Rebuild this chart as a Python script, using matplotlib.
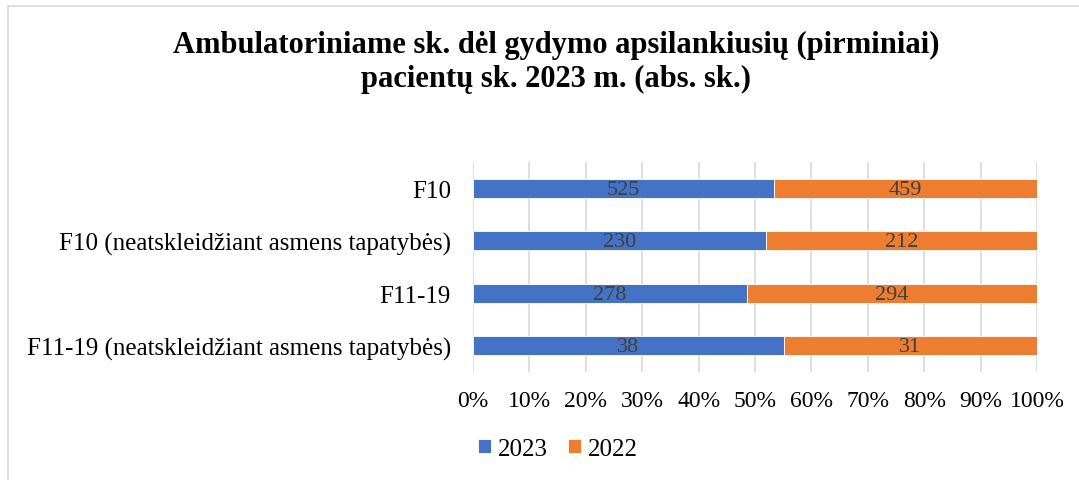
import numpy as np
import matplotlib.pyplot as plt
from matplotlib.patches import Rectangle

plt.rcParams['font.family'] = ['Liberation Serif', 'DejaVu Serif']

categories = ['F10', 'F10 (neatskleidžiant asmens tapatybės)', 'F11-19',
              'F11-19 (neatskleidžiant asmens tapatybės)']
values_2023 = [525, 230, 278, 38]
values_2022 = [459, 212, 294, 31]
series_names = ['2023', '2022']
colors = ['#4472C4', '#ED7D31']
title_lines = ['Ambulatoriniame sk. dėl gydymo apsilankiusių (pirminiai)',
               'pacientų sk. 2023 m. (abs. sk.)']

v23 = np.array(values_2023, dtype=float)
v22 = np.array(values_2022, dtype=float)
total = v23 + v22
p23 = v23 / total * 100
p22 = v22 / total * 100

W, H = 1079, 481
fig = plt.figure(figsize=(W / 100, H / 100), dpi=100)
# outer chart frame, only top and left edges are visible
fig.patches.append(Rectangle((8 / W, -0.1), 1.2, (H - 7) / H + 0.1,
                             transform=fig.transFigure, fill=False,
                             edgecolor='#D9D9D9', linewidth=1.2))

ax = fig.add_axes([473 / W, (H - 373) / H, (1037 - 473) / W, 210 / H])
y = np.arange(len(categories))
bars1 = ax.barh(y, p23, height=0.36, color=colors[0], edgecolor='white',
                linewidth=0.6, label=series_names[0], zorder=3)
bars2 = ax.barh(y, p22, left=p23, height=0.36, color=colors[1], edgecolor='white',
                linewidth=0.6, label=series_names[1], zorder=3)

for bars, vals in [(bars1, values_2023), (bars2, values_2022)]:
    for b, v in zip(bars, vals):
        ax.text(b.get_x() + b.get_width() / 2, b.get_y() + b.get_height() / 2 + 0.02,
                str(v), ha='center', va='center', fontsize=16, color='#404040', zorder=4)

ax.set_xlim(0, 100)
ax.set_ylim(len(categories) - 0.5, -0.5)
ax.set_yticks(y)
ax.set_yticklabels(categories, fontsize=18)
ax.set_xticks(np.arange(0, 101, 10))
ax.set_xticklabels([f'{t}%' for t in range(0, 101, 10)], fontsize=17)
ax.tick_params(length=0)
ax.tick_params(axis='y', pad=16)
ax.tick_params(axis='x', pad=13)
ax.grid(axis='x', color='#D9D9D9', linewidth=1.2, zorder=0)
for s in ax.spines.values():
    s.set_visible(False)

fig.text(556 / W, 1 - 53 / H, title_lines[0], ha='center', va='baseline',
         fontsize=22, fontweight='bold')
fig.text(556 / W, 1 - 87 / H, title_lines[1], ha='center', va='baseline',
         fontsize=22, fontweight='bold')

fig.legend(handles=[bars1, bars2], labels=series_names, loc='center left',
           bbox_to_anchor=(478 / W, 1 - 450 / H), ncol=2, frameon=False,
           fontsize=18, handlelength=0.5, handleheight=0.5, handletextpad=0.3,
           columnspacing=0.8, borderpad=0, borderaxespad=0)

fig.savefig('out.png', dpi=100)
